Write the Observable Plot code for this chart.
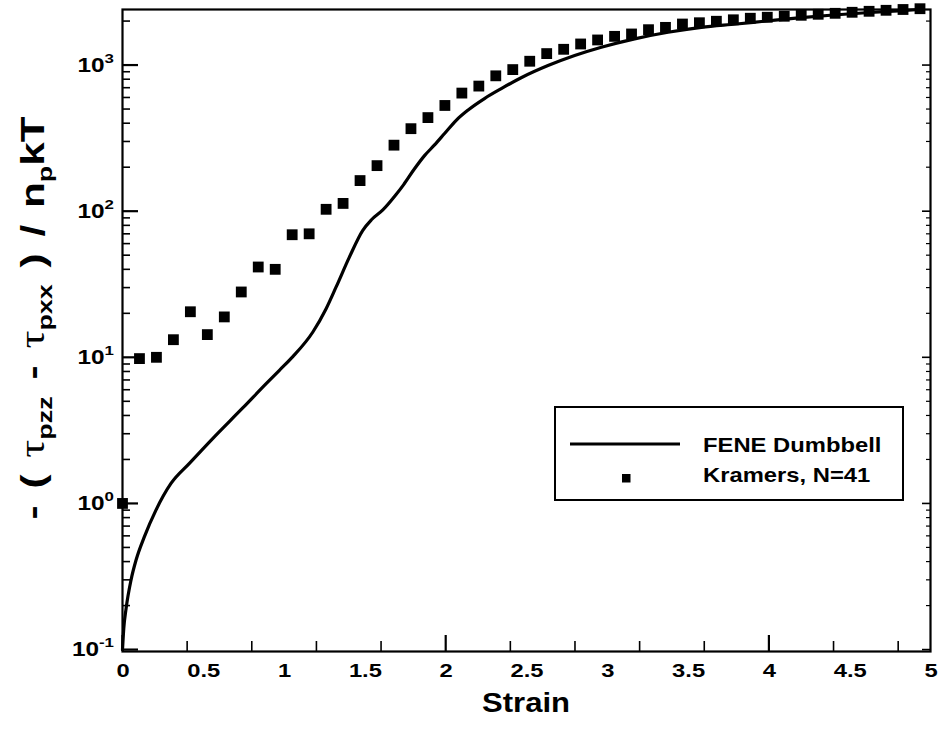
<!DOCTYPE html>
<html>
<head>
<meta charset="utf-8">
<script src="https://cdn.jsdelivr.net/npm/d3@7"></script>
<script src="https://cdn.jsdelivr.net/npm/@observablehq/plot@0.6"></script>
<style>
html, body { margin: 0; padding: 0; background: #fff; }
#chart svg { display: block; }
</style>
</head>
<body>
<div id="chart"></div>
<script>
// ---- data ----
const kramersStrain = [0, 0.105, 0.21, 0.315, 0.42, 0.525, 0.63, 0.735, 0.84, 0.945, 1.05, 1.155, 1.26, 1.365, 1.47, 1.575, 1.68, 1.785, 1.89, 1.995, 2.1, 2.205, 2.31, 2.415, 2.52, 2.625, 2.73, 2.835, 2.94, 3.045, 3.15, 3.255, 3.36, 3.465, 3.57, 3.675, 3.78, 3.885, 3.99, 4.095, 4.2, 4.305, 4.41, 4.515, 4.62, 4.725, 4.83, 4.935];
const kramersStress = [1.0, 9.8, 10.0, 13.2, 20.5, 14.3, 18.9, 28, 41.5, 40, 69, 70, 103, 113, 162, 205, 283, 367, 437, 529, 643, 718, 844, 931, 1062, 1198, 1282, 1394, 1485, 1572, 1632, 1746, 1811, 1909, 1948, 1994, 2041, 2091, 2124, 2158, 2191, 2226, 2260, 2297, 2333, 2370, 2400, 2430];

const feneStrain = [0, 0.008, 0.022, 0.053, 0.084, 0.135, 0.207, 0.3, 0.414, 0.558, 0.744, 0.889, 0.971, 1.054, 1.178, 1.26, 1.322, 1.404, 1.487, 1.539, 1.611, 1.693, 1.74, 1.807, 1.869, 1.931, 1.993, 2.065, 2.137, 2.24, 2.344, 2.467, 2.633, 2.798, 2.963, 3.169, 3.376, 3.582, 3.8, 4.0, 4.2, 4.4, 4.6, 4.8, 4.93];
const feneStress = [0.1, 0.14, 0.19, 0.30, 0.41, 0.59, 0.90, 1.37, 1.88, 2.78, 4.5, 6.6, 8.15, 10.1, 14.9, 21.5, 30.3, 48.5, 74, 87, 102, 130, 152, 195, 240, 284, 340, 419, 491, 590, 690, 819, 992, 1162, 1324, 1511, 1676, 1813, 1910, 2010, 2110, 2200, 2280, 2350, 2400];

const xTickValues = [0, 0.5, 1, 1.5, 2, 2.5, 3, 3.5, 4, 4.5, 5];
const xTickLabels = ["0", "0.5", "1", "1.5", "2", "2.5", "3", "3.5", "4", "4.5", "5"];
const xMajorTicks = [0, 2, 4];
const xMinorTicks = [0.4, 0.8, 1.2, 1.6, 2.4, 2.8, 3.2, 3.6, 4.4, 4.8];
const yMajorTicks = [0.1, 1, 10, 100, 1000];
const yExponents = ["-1", "0", "1", "2", "3"];
const yMinorTicks = [0.2, 0.3, 0.4, 0.5, 0.6, 0.7, 0.8, 0.9, 2, 3, 4, 5, 6, 7, 8, 9, 20, 30, 40, 50, 60, 70, 80, 90, 200, 300, 400, 500, 600, 700, 800, 900, 2000];
const legendLabels = ["FENE Dumbbell", "Kramers, N=41"];
const xTitle = "Strain";

// ---- tables ----
const kramers = kramersStrain.map((x, i) => ({x, y: kramersStress[i]}));
const fene = feneStrain.map((x, i) => ({x, y: feneStress[i]}));

// ---- layout ----
const W = 939, H = 729;
const M = {left: 122, right: 9, top: 9, bottom: 78};
const innerW = W - M.left - M.right;
const innerH = H - M.top - M.bottom;
const FONT = "'Liberation Sans', Arial, Helvetica, sans-serif";
const S = 1.25; // horizontal stretch of the original lettering

const plot = Plot.plot({
  width: W,
  height: H,
  marginLeft: M.left,
  marginRight: M.right,
  marginTop: M.top,
  marginBottom: M.bottom,
  x: {domain: [0, 5], axis: null},
  y: {type: "log", domain: [0.097, 2400], axis: null},
  style: {background: "white", overflow: "visible"},
  marks: [
    Plot.tickY(yMinorTicks, {y: d => d, insetRight: innerW - 8, stroke: "black", strokeWidth: 1.6}),
    Plot.tickY(yMajorTicks, {y: d => d, insetRight: innerW - 16, stroke: "black", strokeWidth: 2.2}),
    Plot.tickY(yMinorTicks, {y: d => d, insetLeft: innerW - 4, stroke: "black", strokeWidth: 1.2}),
    Plot.tickY(yMajorTicks, {y: d => d, insetLeft: innerW - 8, stroke: "black", strokeWidth: 1.6}),
    Plot.tickX(xMinorTicks, {x: d => d, insetTop: innerH - 10, stroke: "black", strokeWidth: 1.6}),
    Plot.tickX(xMajorTicks, {x: d => d, insetTop: innerH - 16, stroke: "black", strokeWidth: 2.2}),
    Plot.line(fene, {x: "x", y: "y", stroke: "black", strokeWidth: 3.2, curve: "monotone-x"}),
    Plot.dot(kramers, {x: "x", y: "y", symbol: "square", r: 6.1, fill: "black", stroke: "none"}),
    Plot.frame({stroke: "black", strokeWidth: 2.2})
  ]
});

const svg = d3.select(plot);
const xs = plot.scale("x");
const ys = plot.scale("y");

// x tick labels
const xLab = svg.append("g").attr("font-family", FONT).attr("font-weight", "bold").attr("font-size", 19).attr("fill", "black");
xTickValues.forEach((v, i) => {
  xLab.append("text")
    .attr("transform", `translate(${xs.apply(v) + 1},${H - M.bottom + 26}) scale(${S},1)`)
    .attr("text-anchor", "middle")
    .text(xTickLabels[i]);
});

// x title
svg.append("text")
  .attr("transform", `translate(${M.left + innerW / 2},${H - 17}) scale(1.15,1)`)
  .attr("text-anchor", "middle")
  .attr("font-family", FONT).attr("font-weight", "bold").attr("font-size", 27)
  .text(xTitle);

// y tick labels 10^n
const yLab = svg.append("g").attr("font-family", FONT).attr("font-weight", "bold").attr("font-size", 19.5).attr("fill", "black");
yMajorTicks.forEach((v, i) => {
  const t = yLab.append("text")
    .attr("transform", `translate(${M.left - 8},${ys.apply(v) + 7}) scale(${S},1)`)
    .attr("text-anchor", "end");
  t.append("tspan").text("10");
  t.append("tspan").attr("font-size", 13.5).attr("dy", -9).text(yExponents[i]);
});

// y title: - ( τpzz - τpxx ) / npkT
const yt = svg.append("text")
  .attr("transform", `translate(44,${318}) rotate(-90) scale(1.28,1)`)
  .attr("text-anchor", "middle")
  .attr("font-family", FONT).attr("font-weight", "bold").attr("font-size", 33)
  .attr("word-spacing", 4)
  .style("white-space", "pre");
const parts = [
  ["- ( ", "n"], ["τ", "g"], ["pzz", "s"], [" - ", "n"], ["τ", "g"], ["pxx", "s"],
  [" ) / n", "n"], ["p", "s"], ["kT", "n"]
];
let inSub = false;
parts.forEach(([txt, kind]) => {
  const ts = yt.append("tspan").text(txt);
  if (kind === "s") {
    ts.attr("font-size", 21).attr("dy", 8);
    inSub = true;
  } else {
    if (inSub) { ts.attr("dy", -8); inSub = false; }
    if (kind === "g") ts.attr("font-family", "'Liberation Serif', 'DejaVu Serif', serif").attr("font-weight", "normal").attr("font-size", 35);
  }
});

// legend
const lg = svg.append("g");
lg.append("rect").attr("x", 555).attr("y", 407).attr("width", 348).attr("height", 93)
  .attr("fill", "white").attr("stroke", "black").attr("stroke-width", 2);
lg.append("line").attr("x1", 570).attr("x2", 680).attr("y1", 444).attr("y2", 444)
  .attr("stroke", "black").attr("stroke-width", 3.2);
lg.append("rect").attr("x", 622).attr("y", 474).attr("width", 8.5).attr("height", 8.5).attr("fill", "black");
legendLabels.forEach((lab, i) => {
  lg.append("text")
    .attr("transform", `translate(703,${452 + i * 30}) scale(1.22,1)`)
    .attr("text-anchor", "start")
    .attr("font-family", FONT).attr("font-weight", "bold").attr("font-size", 19.5)
    .text(lab);
});

document.getElementById("chart").append(plot);
</script>
</body>
</html>
